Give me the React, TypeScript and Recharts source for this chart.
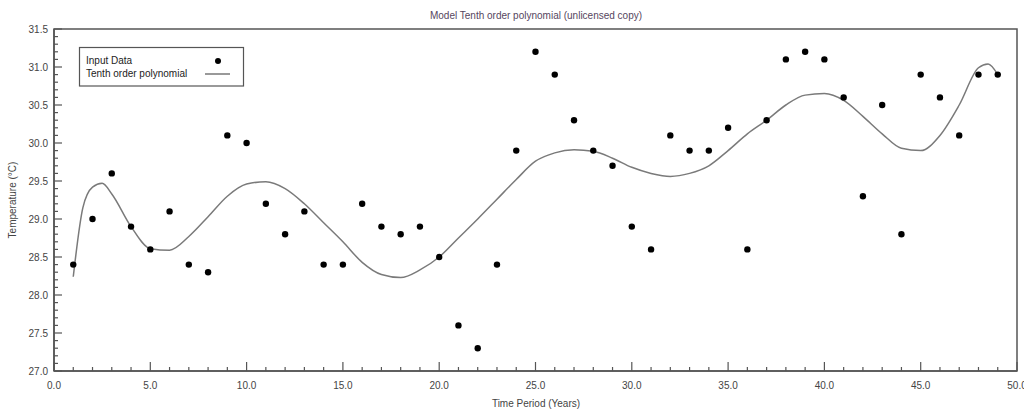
import { ComposedChart, Line, Scatter, XAxis, YAxis, ReferenceArea, Customized } from 'recharts';

// observed temperatures, one per year
const years = [
  1, 2, 3, 4, 5, 6, 7, 8, 9, 10, 11, 12, 13, 14, 15, 16, 17, 18, 19, 20, 21, 22, 23, 24, 25,
  26, 27, 28, 29, 30, 31, 32, 33, 34, 35, 36, 37, 38, 39, 40, 41, 42, 43, 44, 45, 46, 47, 48, 49,
];
const temps = [
  28.4, 29.0, 29.6, 28.9, 28.6, 29.1, 28.4, 28.3, 30.1, 30.0,
  29.2, 28.8, 29.1, 28.4, 28.4, 29.2, 28.9, 28.8, 28.9, 28.5,
  27.6, 27.3, 28.4, 29.9, 31.2, 30.9, 30.3, 29.9, 29.7, 28.9,
  28.6, 30.1, 29.9, 29.9, 30.2, 28.6, 30.3, 31.1, 31.2, 31.1,
  30.6, 29.3, 30.5, 28.8, 30.9, 30.6, 30.1, 30.9, 30.9,
];

// fitted curve
const fitX = [
  1, 1.5, 2, 2.5, 3, 4, 5, 6, 7, 8, 9, 10, 11, 12, 13, 14, 15, 16, 17, 18, 19, 20, 21, 22, 23, 24,
  25, 26, 27, 28, 29, 30, 31, 32, 33, 34, 35, 36, 37, 38, 39, 40, 41, 42, 43, 44, 45, 46, 47, 48, 48.5, 49,
];
const fitY = [
  28.24, 29.15, 29.42, 29.47, 29.33, 28.9, 28.61, 28.59, 28.77, 29.03, 29.3, 29.46, 29.49, 29.4,
  29.2, 28.95, 28.7, 28.43, 28.27, 28.23, 28.33, 28.5, 28.75, 29.0, 29.26, 29.52,
  29.76, 29.87, 29.91, 29.89, 29.8, 29.68, 29.6, 29.56, 29.6, 29.7, 29.9, 30.12, 30.3, 30.5,
  30.63, 30.65, 30.56, 30.35, 30.12, 29.93, 29.9, 30.1, 30.5, 30.99, 31.04, 30.9,
];

const xTicks = [
  0, 1, 2, 3, 4, 5, 6, 7, 8, 9, 10, 11, 12, 13, 14, 15, 16, 17, 18, 19, 20, 21, 22, 23, 24, 25,
  26, 27, 28, 29, 30, 31, 32, 33, 34, 35, 36, 37, 38, 39, 40, 41, 42, 43, 44, 45, 46, 47, 48, 49, 50,
];
const yTicks = [
  27.0, 27.1, 27.2, 27.3, 27.4, 27.5, 27.6, 27.7, 27.8, 27.9,
  28.0, 28.1, 28.2, 28.3, 28.4, 28.5, 28.6, 28.7, 28.8, 28.9,
  29.0, 29.1, 29.2, 29.3, 29.4, 29.5, 29.6, 29.7, 29.8, 29.9,
  30.0, 30.1, 30.2, 30.3, 30.4, 30.5, 30.6, 30.7, 30.8, 30.9,
  31.0, 31.1, 31.2, 31.3, 31.4, 31.5,
];

const points = years.map((x, i) => ({ x, temp: temps[i] }));
const fit = fitX.map((x, i) => ({ x, fit: fitY[i] }));

const FONT = '"Liberation Sans", Arial, sans-serif';
const AXIS = '#555';
const TEXT = '#444';

function XTick(props: any) {
  const { x, y, payload } = props;
  const v = payload.value;
  const major = v % 5 === 0;
  return (
    <g>
      <line x1={x} x2={x} y1={y} y2={y - (major ? 9 : 4)} stroke={AXIS} strokeWidth={1.2} />
      {major && (
        <text x={x} y={y + 18} textAnchor="middle" fontSize={10} fontFamily={FONT} fill={TEXT}>
          {v.toFixed(1)}
        </text>
      )}
    </g>
  );
}

function YTick(props: any) {
  const { x, y, payload } = props;
  const v = payload.value;
  const major = Math.abs(v * 2 - Math.round(v * 2)) < 1e-6;
  return (
    <g>
      <line x1={x} x2={x + (major ? 8 : 4)} y1={y} y2={y} stroke={AXIS} strokeWidth={1.2} />
      {major && (
        <text x={x - 6} y={y + 3.5} textAnchor="end" fontSize={10} fontFamily={FONT} fill={TEXT}>
          {v.toFixed(1)}
        </text>
      )}
    </g>
  );
}

function Dot(props: any) {
  return <circle cx={props.cx} cy={props.cy} r={3.2} fill="#000" />;
}

function Labels() {
  return (
    <g fontFamily={FONT}>
      <text x={536} y={19} textAnchor="middle" fontSize={10} fill="#56465e">
        Model Tenth order polynomial (unlicensed copy)
      </text>
      <text x={536} y={407} textAnchor="middle" fontSize={10} fill={TEXT}>
        Time Period (Years)
      </text>
      <text x={16} y={200} textAnchor="middle" fontSize={10} fill={TEXT} transform="rotate(-90 16 200)">
        Temperature (°C)
      </text>
      <rect x={79.5} y={47.5} width={164} height={38.5} fill="#fff" stroke={AXIS} strokeWidth={1.2} />
      <text x={86} y={64} fontSize={10} fill="#222">Input Data</text>
      <circle cx={218} cy={61} r={3} fill="#000" />
      <text x={86} y={77} fontSize={10} fill="#222">Tenth order polynomial</text>
      <line x1={205} x2={230} y1={74} y2={74} stroke="#555" strokeWidth={1.2} />
    </g>
  );
}

export default function App() {
  return (
    <div style={{ position: 'absolute', left: 0, top: 0, background: '#fff' }}>
      <ComposedChart width={1024} height={412} margin={{ top: 29, right: 7, bottom: 0, left: 0 }}>
        <XAxis
          type="number"
          dataKey="x"
          domain={[0, 50]}
          ticks={xTicks}
          interval={0}
          tickSize={0}
          tickMargin={0}
          height={41}
          tick={<XTick />}
          axisLine={{ stroke: AXIS, strokeWidth: 1.5 }}
          allowDataOverflow
        />
        <YAxis
          type="number"
          domain={[27, 31.5]}
          ticks={yTicks}
          interval={0}
          tickSize={0}
          tickMargin={0}
          width={54}
          tick={<YTick />}
          axisLine={{ stroke: AXIS, strokeWidth: 1.5 }}
          allowDataOverflow
        />
        <ReferenceArea x1={0} x2={50} y1={27} y2={31.5} fill="none" stroke={AXIS} strokeWidth={1.5} />
        <Line
          data={fit}
          dataKey="fit"
          type="monotone"
          stroke="#7a7a7a"
          strokeWidth={1.5}
          dot={false}
          activeDot={false}
          isAnimationActive={false}
        />
        <Scatter data={points} dataKey="temp" fill="#000" shape={<Dot />} isAnimationActive={false} />
        <Customized component={Labels} />
      </ComposedChart>
    </div>
  );
}
